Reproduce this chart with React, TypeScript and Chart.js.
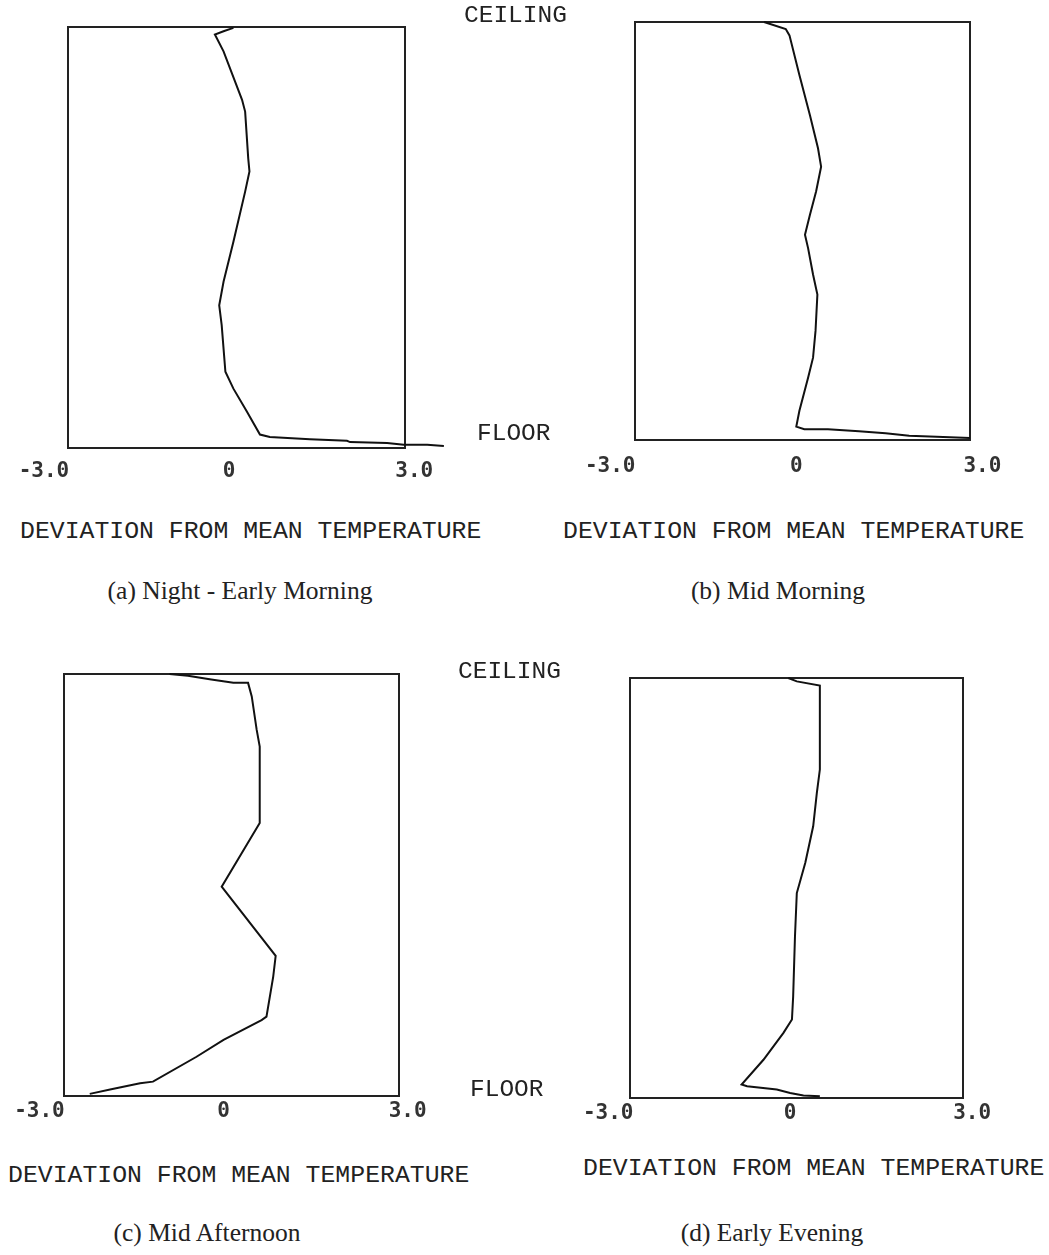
import React, { useEffect, useRef } from "react";
import { Chart, registerables } from "chart.js";

Chart.register(...registerables);

// Tick values and labels on the deviation axis
const tickValues = [-3, 0, 3];
const tickLabels = ["-3.0", "0", "3.0"];

// (a) Night - Early Morning : deviation (deg) vs relative height (0 floor .. 100 ceiling)
const devA = [0.07, -0.09, -0.23, -0.09, 0.21, 0.26, 0.31, 0.33, 0.26, 0.07, -0.09, -0.16, -0.12, -0.06, 0.07, 0.29, 0.5, 0.66, 1.31, 1.91, 1.96, 2.56, 2.83, 3.21, 3.48];
const heightA = [99.8, 99.0, 98.2, 94.2, 82.7, 79.9, 68.8, 65.7, 60.9, 49.0, 39.5, 33.9, 29.2, 18.1, 14.1, 8.6, 3.2, 2.6, 2.1, 1.7, 1.4, 1.2, 0.8, 0.8, 0.5];

// (b) Mid Morning
const devB = [-0.52, -0.17, -0.11, 0.05, 0.22, 0.35, 0.4, 0.32, 0.22, 0.14, 0.19, 0.27, 0.34, 0.31, 0.27, 0.19, 0.05, 0.0, 0.13, 0.51, 1.01, 1.44, 1.82, 2.26, 2.8];
const heightB = [100, 98.3, 96.8, 87.3, 77.7, 69.8, 65.4, 59.5, 53.9, 49.1, 45.9, 39.6, 34.8, 26.1, 19.7, 14.9, 7.0, 3.2, 2.6, 2.6, 2.1, 1.6, 1.0, 0.8, 0.5];

// (c) Mid Afternoon
const devC = [-0.88, -0.58, -0.2, 0.16, 0.4, 0.46, 0.54, 0.59, 0.59, -0.03, 0.85, 0.81, 0.7, 0.62, 0.0, -0.44, -1.15, -1.36, -1.83, -2.18];
const heightC = [100, 99.6, 98.7, 97.9, 97.9, 94.7, 86.8, 82.8, 64.7, 49.6, 33.2, 28.3, 18.8, 18.0, 13.3, 9.3, 3.4, 3.0, 1.6, 0.5];

// (d) Early Evening
const devD = [-0.03, 0.11, 0.49, 0.49, 0.44, 0.38, 0.25, 0.11, 0.08, 0.05, 0.03, -0.11, -0.44, -0.8, -0.71, -0.22, 0.0, 0.22, 0.49];
const heightD = [100, 99.2, 98.2, 78.2, 72.6, 64.7, 56.0, 48.8, 38.5, 24.2, 18.7, 15.5, 9.1, 3.2, 2.8, 2.0, 1.2, 0.6, 0.4];

const captions = ["(a) Night - Early Morning", "(b) Mid Morning", "(c) Mid Afternoon", "(d) Early Evening"];
const axisTitle = "DEVIATION FROM MEAN TEMPERATURE";

type Panel = {
  dev: number[];
  height: number[];
  canvas: { left: number; top: number; width: number; height: number };
  box: { left: number; top: number; right: number; bottom: number };
  xmin: number;
  xmax: number;
  tickY: number;
};

const panels: Panel[] = [
  { dev: devA, height: heightA, canvas: { left: 0, top: 0, width: 530, height: 510 }, box: { left: 68, top: 27, right: 405, bottom: 448 }, xmin: -2.61, xmax: 2.85, tickY: 472 },
  { dev: devB, height: heightB, canvas: { left: 540, top: 0, width: 509, height: 510 }, box: { left: 635, top: 22, right: 970, bottom: 440 }, xmin: -2.6, xmax: 2.8, tickY: 467 },
  { dev: devC, height: heightC, canvas: { left: 0, top: 650, width: 530, height: 500 }, box: { left: 64, top: 674, right: 399, bottom: 1096 }, xmin: -2.6, xmax: 2.86, tickY: 1112 },
  { dev: devD, height: heightD, canvas: { left: 540, top: 650, width: 509, height: 500 }, box: { left: 630, top: 678, right: 963, bottom: 1098 }, xmin: -2.64, xmax: 2.85, tickY: 1114 },
];

function makeChart(canvas: HTMLCanvasElement, p: Panel) {
  const tickYLocal = p.tickY - p.canvas.top;
  const framePlugin = {
    id: "frameAndTicks",
    beforeDatasetsDraw(chart: any) {
      const { ctx, chartArea } = chart;
      ctx.save();
      ctx.strokeStyle = "#222";
      ctx.lineWidth = 2;
      ctx.strokeRect(chartArea.left, chartArea.top, chartArea.right - chartArea.left, chartArea.bottom - chartArea.top);
      ctx.restore();
    },
    afterDraw(chart: any) {
      const { ctx } = chart;
      const xs = chart.scales.x;
      ctx.save();
      ctx.fillStyle = "#333";
      ctx.font = "bold 21px 'DejaVu Sans Mono', monospace";
      ctx.textAlign = "center";
      ctx.textBaseline = "middle";
      tickValues.forEach((v, i) => {
        ctx.fillText(tickLabels[i], xs.getPixelForValue(v), tickYLocal);
      });
      ctx.restore();
    },
  };
  return new Chart(canvas, {
    type: "line",
    data: {
      datasets: [
        {
          data: p.dev.map((d, i) => ({ x: d, y: p.height[i] })),
          borderColor: "#111",
          borderWidth: 2,
          pointRadius: 0,
          tension: 0,
          fill: false,
          clip: false as any,
        },
      ],
    },
    options: {
      animation: false,
      responsive: false,
      maintainAspectRatio: false,
      events: [],
      layout: {
        padding: {
          left: p.box.left - p.canvas.left,
          top: p.box.top - p.canvas.top,
          right: p.canvas.left + p.canvas.width - p.box.right,
          bottom: p.canvas.top + p.canvas.height - p.box.bottom,
        },
      },
      plugins: { legend: { display: false }, tooltip: { enabled: false }, title: { display: false } },
      scales: {
        x: { type: "linear", min: p.xmin, max: p.xmax, display: false },
        y: { type: "linear", min: 0, max: 100, display: false },
      },
    },
    plugins: [framePlugin],
  } as any);
}

const monoFont = "'Courier New', 'Liberation Mono', monospace";
const serifFont = "'Liberation Serif', 'Times New Roman', serif";

function Label({ text, left, cx, cy, size, font }: { text: string; left?: number; cx?: number; cy: number; size: number; font: string }) {
  const centered = cx !== undefined;
  return (
    <div
      style={{
        position: "absolute",
        left: centered ? cx : left,
        top: cy - size / 2,
        transform: centered ? "translateX(-50%)" : undefined,
        fontSize: size,
        lineHeight: `${size}px`,
        fontFamily: font,
        color: "#222",
        whiteSpace: "pre",
      }}
    >
      {text}
    </div>
  );
}

export default function App() {
  const refs = [useRef<HTMLCanvasElement>(null), useRef<HTMLCanvasElement>(null), useRef<HTMLCanvasElement>(null), useRef<HTMLCanvasElement>(null)];
  useEffect(() => {
    const charts = panels.map((p, i) => makeChart(refs[i].current as HTMLCanvasElement, p));
    return () => charts.forEach((c) => c.destroy());
  }, []);

  return (
    <div style={{ position: "absolute", left: 0, top: 0, width: 1049, height: 1255, background: "#fff", overflow: "hidden" }}>
      {panels.map((p, i) => (
        <canvas
          key={i}
          ref={refs[i]}
          width={p.canvas.width}
          height={p.canvas.height}
          style={{ position: "absolute", left: p.canvas.left, top: p.canvas.top, width: p.canvas.width, height: p.canvas.height }}
        />
      ))}
      <Label text="CEILING" left={464} cy={16} size={24.5} font={monoFont} />
      <Label text="FLOOR" left={477} cy={434} size={24.5} font={monoFont} />
      <Label text="CEILING" left={458} cy={672} size={24.5} font={monoFont} />
      <Label text="FLOOR" left={470} cy={1090} size={24.5} font={monoFont} />

      <Label text={axisTitle} left={20} cy={531} size={24.8} font={monoFont} />
      <Label text={axisTitle} left={563} cy={531} size={24.8} font={monoFont} />
      <Label text={axisTitle} left={8} cy={1175} size={24.8} font={monoFont} />
      <Label text={axisTitle} left={583} cy={1168} size={24.8} font={monoFont} />

      <Label text={captions[0]} cx={240} cy={591} size={25.5} font={serifFont} />
      <Label text={captions[1]} cx={778} cy={591} size={25.5} font={serifFont} />
      <Label text={captions[2]} cx={207} cy={1233} size={25.5} font={serifFont} />
      <Label text={captions[3]} cx={772} cy={1233} size={25.5} font={serifFont} />
    </div>
  );
}
